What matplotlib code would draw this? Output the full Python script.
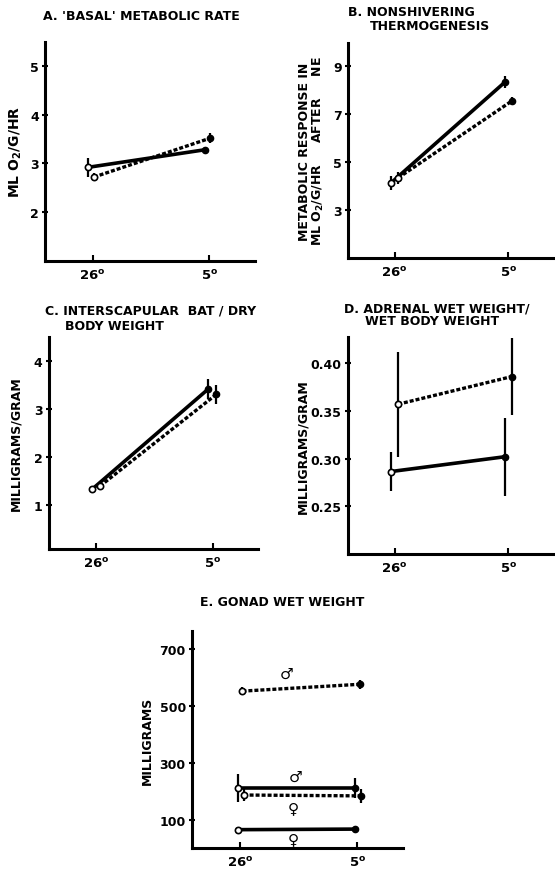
import numpy as np
import matplotlib.pyplot as plt

# temperature groups
temps = ["26$^{\\mathbf{o}}$", "5$^{\\mathbf{o}}$"]

# A. basal metabolic rate (ml O2/g/hr)
a_solid = [2.92, 3.28]
a_solid_err = [0.2, 0.06]
a_dot = [2.72, 3.52]
a_dot_err = [0.08, 0.1]

# B. nonshivering thermogenesis
b_solid = [4.15, 8.35]
b_solid_err = [0.3, 0.25]
b_dot = [4.35, 7.56]
b_dot_err = [0.25, 0.15]

# C. interscapular BAT / dry body weight
c_solid = [1.33, 3.41]
c_solid_err = [0.06, 0.2]
c_dot = [1.40, 3.30]
c_dot_err = [0.06, 0.2]

# D. adrenal wet weight / wet body weight
d_solid = [0.2865, 0.302]
d_solid_err = [0.02, 0.041]
d_dot = [0.357, 0.386]
d_dot_err = [0.055, 0.04]

# E. gonad wet weight (mg)
e_male_dot = [553, 577]
e_male_dot_err = [15, 15]
e_male_solid = [212, 212]
e_male_solid_err = [50, 35]
e_female_dot = [187, 184]
e_female_dot_err = [20, 25]
e_female_solid = [65, 67]
e_female_solid_err = [8, 8]

plt.rcParams['font.family'] = 'DejaVu Sans'
plt.rcParams['font.weight'] = 'bold'
plt.rcParams['mathtext.default'] = 'bf'

W, H = 555, 870
fig = plt.figure(figsize=(W / 100, H / 100), dpi=100)

x = np.arange(len(temps))


def series(ax, vals, errs, dotted, shift):
    xs = x + shift
    if dotted:
        ax.plot(xs, vals, color='black', lw=2.4, linestyle=(0, (1.2, 0.6)), zorder=2)
    else:
        ax.plot(xs, vals, color='black', lw=2.6, zorder=2)
    ax.errorbar(xs, vals, yerr=errs, fmt='none', ecolor='black', elinewidth=1.6, capsize=0, zorder=3)
    ax.plot(xs[0], vals[0], 'o', ms=4.5, mfc='white', mec='black', mew=1.2, zorder=4)
    ax.plot(xs[1], vals[1], 'o', ms=4.5, mfc='black', mec='black', zorder=4)


def setup(ax, ylim, yticks, yticklabels=None):
    ax.set_xlim(-0.41, 1.39)
    ax.set_ylim(*ylim)
    ax.set_xticks(x)
    ax.set_xticklabels(temps, fontsize=9.5, fontweight='bold')
    ax.set_yticks(yticks)
    if yticklabels is not None:
        ax.set_yticklabels(yticklabels)
    for s in ['top', 'right']:
        ax.spines[s].set_visible(False)
    for s in ['left', 'bottom']:
        ax.spines[s].set_linewidth(2.2)
    ax.tick_params(axis='y', direction='inout', length=5, width=1.5, labelsize=9, pad=2)
    ax.tick_params(axis='x', direction='in', length=4, width=1.5, pad=5)


def ftext(px, py, s, **kw):
    # place text by pixel position from the top-left corner
    fig.text(px / W, 1 - py / H, s, fontsize=9, fontweight='bold', va='center', **kw)


# panel A
axA = fig.add_axes([0.081, 0.699, 0.378, 0.252])
series(axA, a_solid, a_solid_err, False, -0.04)
series(axA, a_dot, a_dot_err, True, 0.01)
setup(axA, (1.0, 5.5), [2, 3, 4, 5])
axA.set_ylabel("ML O$_2$/G/HR", fontsize=10, fontweight='bold', labelpad=4)
ftext(43, 16, "A. 'BASAL' METABOLIC RATE", ha='left')

# panel B
axB = fig.add_axes([0.627, 0.702, 0.369, 0.248])
series(axB, b_solid, b_solid_err, False, -0.03)
series(axB, b_dot, b_dot_err, True, 0.03)
setup(axB, (1, 10), [3, 5, 7, 9])
axB.set_ylabel("METABOLIC RESPONSE IN\nML O$_2$/G/HR     AFTER     NE", fontsize=9,
               fontweight='bold', labelpad=5, linespacing=1.0)
ftext(348, 12, "B. NONSHIVERING", ha='left')
ftext(370, 27, "THERMOGENESIS", ha='left')

# panel C
axC = fig.add_axes([0.088, 0.368, 0.377, 0.244])
series(axC, c_solid, c_solid_err, False, -0.04)
series(axC, c_dot, c_dot_err, True, 0.03)
setup(axC, (0.1, 4.5), [1, 2, 3, 4])
axC.set_ylabel("MILLIGRAMS/GRAM", fontsize=9, fontweight='bold', labelpad=8)
ftext(45, 311, "C. INTERSCAPULAR  BAT / DRY", ha='left')
ftext(65, 326, "BODY WEIGHT", ha='left')

# panel D
axD = fig.add_axes([0.627, 0.362, 0.369, 0.249])
series(axD, d_solid, d_solid_err, False, -0.03)
series(axD, d_dot, d_dot_err, True, 0.03)
setup(axD, (0.20, 0.427), [0.25, 0.30, 0.35, 0.40], ['0.25', '0.30', '0.35', '0.40'])
axD.set_ylabel("MILLIGRAMS/GRAM", fontsize=9, fontweight='bold', labelpad=1)
ftext(344, 309, "D. ADRENAL WET WEIGHT/", ha='left')
ftext(365, 322, "WET BODY WEIGHT", ha='left')

# panel E
axE = fig.add_axes([0.346, 0.024, 0.380, 0.249])
series(axE, e_male_dot, e_male_dot_err, True, 0.02)
series(axE, e_male_solid, e_male_solid_err, False, -0.02)
series(axE, e_female_dot, e_female_dot_err, True, 0.03)
series(axE, e_female_solid, e_female_solid_err, False, -0.02)
setup(axE, (0, 763), [100, 300, 500, 700])
axE.set_ylabel("MILLIGRAMS", fontsize=9, fontweight='bold', labelpad=4)
ftext(282, 603, "E. GONAD WET WEIGHT", ha='center')
axE.text(0.40, 615, "\u2642", fontsize=11, ha='center', va='center', fontweight='normal')
axE.text(0.47, 254, "\u2642", fontsize=11, ha='center', va='center', fontweight='normal')
axE.text(0.45, 142, "\u2640", fontsize=11, ha='center', va='center', fontweight='normal')
axE.text(0.45, 32, "\u2640", fontsize=11, ha='center', va='center', fontweight='normal')

fig.savefig("out.png", dpi=100)
